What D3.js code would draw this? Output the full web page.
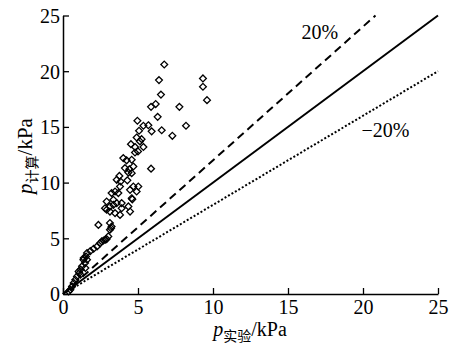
<!DOCTYPE html>
<html>
<head>
<meta charset="utf-8">
<script src="https://cdn.jsdelivr.net/npm/d3@7"></script>
<style>
  body { margin: 0; background: #fff; }
  svg text { font-family: "Liberation Serif", "Times New Roman", "DejaVu Serif", serif; fill: #000; }
</style>
</head>
<body>
<div id="chart"></div>
<script>
// measured (x) vs computed (y) pressure, kPa
const pExp = [6.75, 6.4, 9.33, 9.33, 9.6, 6.53, 5.87, 6.18, 7.76, 6.31, 4.96, 5.36, 5.69, 8.2, 5.07, 5.91, 6.58, 7.29, 4.91, 5.24,
  4.53, 4.8, 5.13, 5.36, 5.0, 4.8, 4.02, 4.24, 4.58, 4.13, 4.42, 4.69, 4.58, 4.36, 5.87, 3.76, 3.58, 3.84, 4.29, 3.8,
  4.69, 5.02, 4.91, 4.47, 3.47, 3.24, 3.69, 4.58, 4.62, 2.91, 3.36, 3.58, 3.91, 3.13, 4.36, 2.8, 3.36, 3.91, 3.47, 3.8,
  4.47, 2.91, 3.13, 2.36, 3.13, 3.24, 3.13, 3.2, 3.02, 2.91, 2.82, 2.7, 2.58, 2.47, 2.27, 2.04, 1.82, 1.6, 1.53, 1.38,
  1.6, 1.36, 1.47, 1.27, 1.49, 1.18, 1.04, 1.16, 1.09, 0.93, 0.82, 0.71, 0.6, 0.49, 0.38];
const pCalc = [20.6, 19.2, 19.35, 18.6, 17.4, 17.9, 16.8, 17.05, 16.8, 15.9, 15.55, 15.1, 15.15, 15.1, 14.65, 14.6, 14.7, 14.2, 14.05, 13.9,
  13.45, 13.2, 13.7, 13.2, 12.8, 12.7, 12.2, 12.0, 12.05, 11.3, 11.2, 11.45, 10.85, 10.9, 11.25, 10.6, 10.25, 10.1, 10.2, 9.65,
  9.65, 9.65, 9.2, 9.35, 9.2, 9.06, 9.06, 8.6, 8.5, 8.3, 8.46, 8.16, 8.16, 7.86, 7.86, 7.7, 8.0, 7.7, 7.26, 7.1,
  7.4, 7.56, 7.4, 6.2, 6.37, 6.06, 5.77, 5.9, 5.17, 4.93, 4.87, 4.8, 4.72, 4.55, 4.27, 4.06, 3.85, 3.68, 3.37, 3.23,
  3.08, 3.08, 2.78, 2.48, 2.33, 2.2, 2.03, 1.73, 1.88, 1.58, 1.28, 0.99, 0.68, 0.39, 0.23];
const tickValues = [0, 5, 10, 15, 20, 25];
const refSlopes = [1, 1.2, 0.8];
const refLabels = ["20%", "\u221220%"];

const serif = "'Liberation Serif', 'Times New Roman', serif";
const width = 450, height = 349;
const margin = {top: 15.5, right: 12, bottom: 55, left: 63};

const svg = d3.select("#chart").append("svg")
  .attr("width", width)
  .attr("height", height);

const x = d3.scaleLinear().domain([0, 25]).range([margin.left, width - margin.right]);
const y = d3.scaleLinear().domain([0, 25]).range([height - margin.bottom, margin.top]);

// axes, ticks pointing inward
const xAxis = svg.append("g")
  .attr("transform", "translate(0," + y(0) + ")")
  .call(d3.axisBottom(x).tickValues(tickValues).tickSizeInner(-6).tickSizeOuter(0).tickPadding(8).tickFormat(d3.format("d")));
const yAxis = svg.append("g")
  .attr("transform", "translate(" + x(0) + ",0)")
  .call(d3.axisLeft(y).tickValues(tickValues).tickSizeInner(-6).tickSizeOuter(0).tickPadding(3).tickFormat(d3.format("d")));

[xAxis, yAxis].forEach(function(a) {
  a.attr("font-family", serif).attr("font-size", 20);
  a.select(".domain").attr("stroke", "#000").attr("stroke-width", 1.5);
  a.selectAll(".tick line").attr("stroke", "#000").attr("stroke-width", 1.3);
  a.selectAll(".tick text").attr("fill", "#000");
});
xAxis.selectAll(".tick text").attr("dy", "0.6em");
yAxis.selectAll(".tick text").attr("dy", "0.34em");

// reference lines: y = x, +20%, -20%
const lineStyle = [
  {dash: null, w: 2},
  {dash: "8,5", w: 2},
  {dash: "2,2", w: 2}
];
refSlopes.forEach(function(k, i) {
  const xEnd = Math.min(25, 25 / k);
  svg.append("line")
    .attr("x1", x(0)).attr("y1", y(0))
    .attr("x2", x(xEnd)).attr("y2", y(k * xEnd))
    .attr("stroke", "#000")
    .attr("stroke-width", lineStyle[i].w)
    .attr("stroke-dasharray", lineStyle[i].dash);
});

svg.append("text")
  .attr("x", x(15.9)).attr("y", y(22.9))
  .attr("font-size", 20)
  .text(refLabels[0]);
svg.append("text")
  .attr("x", x(19.9)).attr("y", y(14.1))
  .attr("font-size", 20)
  .text(refLabels[1]);

// data points, hollow diamonds
const data = pExp.map(function(v, i) { return {x: v, y: pCalc[i]}; });
const diamond = "M0,-3.4L3.4,0L0,3.4L-3.4,0Z";
svg.append("g").selectAll("path")
  .data(data)
  .enter().append("path")
  .attr("d", diamond)
  .attr("transform", function(d) { return "translate(" + x(d.x) + "," + y(d.y) + ")"; })
  .attr("fill", "none")
  .attr("stroke", "#000")
  .attr("stroke-width", 1.3);

// axis titles
const cjk = "'Noto Sans CJK SC', sans-serif";
const xt = svg.append("text")
  .attr("x", 250).attr("y", 336)
  .attr("text-anchor", "middle")
  .attr("font-size", 20);
xt.append("tspan").style("font-style", "italic").text("p");
xt.append("tspan").attr("dy", 5).style("font-family", cjk).style("font-size", "14px").text("实验");
xt.append("tspan").attr("dy", -5).text("/kPa");

const yt = svg.append("text")
  .attr("transform", "translate(32,156) rotate(-90)")
  .attr("text-anchor", "middle")
  .attr("font-size", 21);
yt.append("tspan").style("font-style", "italic").text("p");
yt.append("tspan").attr("dy", 5).style("font-family", cjk).style("font-size", "14px").text("计算");
yt.append("tspan").attr("dy", -5).text("/kPa");
</script>
</body>
</html>
